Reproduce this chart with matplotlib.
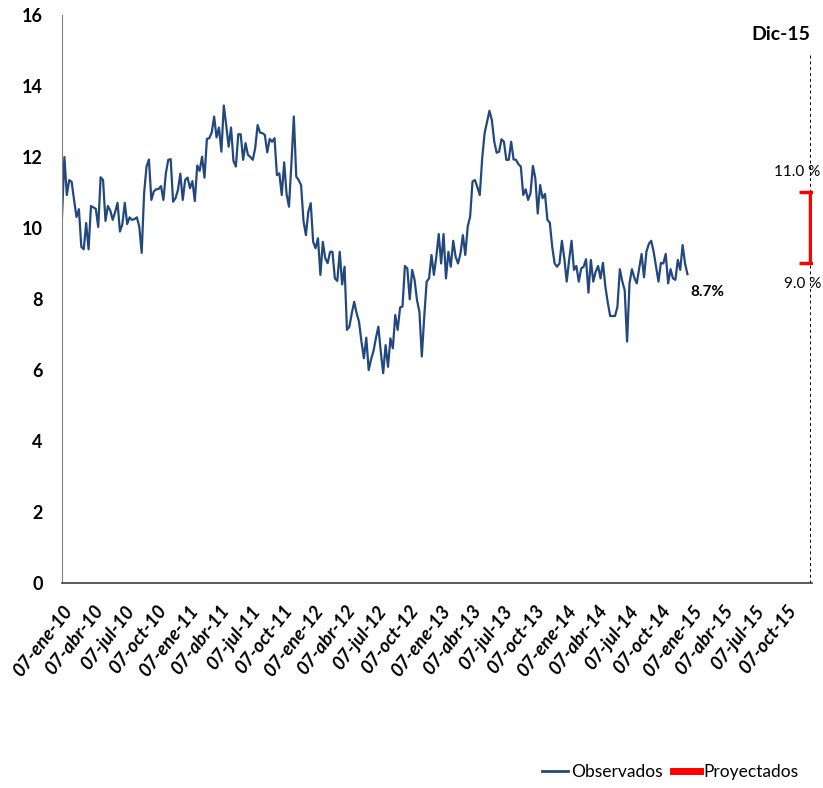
import numpy as np
import pandas as pd
import matplotlib
matplotlib.use('Agg')
import matplotlib.pyplot as plt
from matplotlib.lines import Line2D

plt.rcParams['font.family'] = ['Lato', 'DejaVu Sans']

# weekly observed values (Thursdays, starting 07-ene-10)
start_date = '2010-01-07'
obs_values = [
    10.32, 12.0, 10.93, 11.35, 11.3, 10.79, 10.31, 10.53, 9.47, 9.4,
    10.14, 9.4, 10.62, 10.58, 10.54, 10.03, 11.43, 11.35, 10.2, 10.62,
    10.49, 10.23, 10.45, 10.71, 9.9, 10.11, 10.71, 10.11, 10.3, 10.23,
    10.25, 10.3, 10.04, 9.3, 10.98, 11.73, 11.93, 10.79, 11.03, 11.09,
    11.1, 11.18, 10.79, 11.54, 11.92, 11.94, 10.74, 10.84, 11.07, 11.53,
    10.79, 11.35, 11.42, 11.12, 11.32, 10.76, 11.76, 11.61, 12.01, 11.42,
    12.51, 12.53, 12.69, 13.14, 12.55, 12.83, 12.15, 13.45, 12.9, 12.29,
    12.83, 11.89, 11.73, 12.64, 12.64, 11.92, 12.39, 12.06, 12.0, 11.92,
    12.25, 12.9, 12.69, 12.67, 12.62, 12.13, 12.51, 12.43, 12.53, 11.49,
    11.54, 10.93, 11.85, 10.95, 10.6, 11.82, 13.14, 11.45, 11.35, 11.21,
    10.2, 9.8, 10.46, 10.7, 9.61, 9.43, 9.71, 8.68, 9.61, 9.15,
    9.01, 9.33, 9.33, 8.58, 8.51, 9.33, 8.41, 8.91, 7.13, 7.22,
    7.6, 7.92, 7.6, 7.36, 6.8, 6.33, 6.91, 6.0, 6.3, 6.54,
    6.9, 7.22, 6.52, 5.91, 6.7, 6.09, 6.89, 6.61, 7.55, 7.13,
    7.76, 7.79, 8.93, 8.86, 7.99, 8.82, 8.54, 7.97, 7.64, 6.38,
    7.5, 8.49, 8.58, 9.24, 8.68, 9.19, 9.83, 9.0, 9.83, 8.58,
    9.33, 8.91, 9.64, 9.19, 9.0, 9.28, 9.8, 9.24, 10.04, 10.32,
    11.31, 11.35, 11.15, 10.93, 11.96, 12.67, 12.99, 13.3, 13.04, 12.43,
    12.12, 12.15, 12.5, 12.43, 11.92, 11.92, 12.43, 11.93, 11.92, 11.8,
    11.73, 10.93, 11.09, 10.79, 10.98, 11.75, 11.4, 10.41, 11.21, 10.84,
    10.96, 10.23, 10.15, 9.47, 9.0, 8.91, 9.0, 9.64, 9.15, 8.49,
    9.1, 9.64, 8.82, 8.93, 8.49, 8.86, 8.91, 9.12, 8.18, 9.1,
    8.49, 8.77, 8.93, 8.58, 9.02, 8.35, 7.9, 7.52, 7.52, 7.52,
    7.78, 8.84, 8.5, 8.25, 6.8, 8.44, 8.84, 8.6, 8.44, 8.86,
    9.27, 8.61, 9.33, 9.55, 9.64, 9.33, 8.91, 8.49, 9.02, 9.0,
    9.27, 8.44, 8.84, 8.58, 8.54, 9.1, 8.82, 9.52, 9.0, 8.7,
]

# projection for december 2015
proj_date = '2015-12-15'
proj_label = 'Dic-15'
proj_low = 9.0
proj_high = 11.0

tick_months = pd.date_range('2010-01-01', '2015-10-01', freq='3MS')
month_names = ['ene', 'feb', 'mar', 'abr', 'may', 'jun',
               'jul', 'ago', 'sep', 'oct', 'nov', 'dic']

obs_dates = pd.date_range(start_date, periods=len(obs_values), freq='7D')
tick_dates = tick_months + pd.Timedelta(days=6)
tick_labels = [f"07-{month_names[d.month - 1]}-{d.strftime('%y')}" for d in tick_dates]

fig = plt.figure(figsize=(8.23, 7.88), dpi=100)
ax = fig.add_axes([62 / 823, 1 - 583 / 788, 750 / 823, 568 / 788])

blue = '#22487d'
red = '#ff0000'

ax.plot(obs_dates, obs_values, color=blue, linewidth=1.6)

pd_date = pd.Timestamp(proj_date)
ax.axvline(pd_date, ymin=0, ymax=(14.9 / 16), color='black', linestyle=(0, (3, 3)), linewidth=0.7)
ax.errorbar([pd_date], [(proj_low + proj_high) / 2], yerr=[[(proj_high - proj_low) / 2]],
            fmt='none', ecolor=red, elinewidth=2.5, capsize=8, capthick=2.5)

ax.annotate(f'{obs_values[-1]:.1f}%', xy=(obs_dates[-1], obs_values[-1]), xytext=(2, -8),
            textcoords='offset points', ha='left', va='top', fontsize=11, fontweight='bold')
ax.annotate(f'{proj_high:.1f} %', xy=(pd_date, proj_high), xytext=(-9, 10),
            textcoords='offset points', ha='center', va='bottom', fontsize=11)
ax.annotate(f'{proj_low:.1f} %', xy=(pd_date, proj_low), xytext=(-5, -10),
            textcoords='offset points', ha='center', va='top', fontsize=11)
ax.text(pd_date, 15.2, proj_label, ha='right', va='bottom', fontsize=14, fontweight='bold')

ax.set_xlim(pd.Timestamp(start_date), pd.Timestamp('2015-12-21'))
ax.set_ylim(0, 16)
ax.set_yticks(np.arange(0, 17, 2))
ax.set_xticks(tick_dates)
ax.set_xticklabels(tick_labels, rotation=52, ha='right', rotation_mode='anchor',
                   fontsize=13.5, fontweight='bold', fontstyle='italic')
for lab in ax.get_yticklabels():
    lab.set_fontsize(13)
    lab.set_fontweight('bold')
ax.tick_params(axis='y', length=0, pad=14)
ax.tick_params(axis='x', length=0, pad=14)

ax.spines['top'].set_visible(False)
ax.spines['right'].set_visible(False)
ax.spines['left'].set_color('#808080')
ax.spines['bottom'].set_color('#404040')
ax.spines['bottom'].set_linewidth(1.2)

handles = [Line2D([], [], color=blue, linewidth=2),
           Line2D([], [], color=red, linewidth=5)]
fig.legend(handles, ['Observados', 'Proyectados'], loc='center', ncol=2,
           bbox_to_anchor=(670 / 823, 1 - 772 / 788), frameon=False,
           fontsize=12.5, handlelength=1.5, handletextpad=0.2, columnspacing=0.6)

fig.savefig('out.png', dpi=100)
